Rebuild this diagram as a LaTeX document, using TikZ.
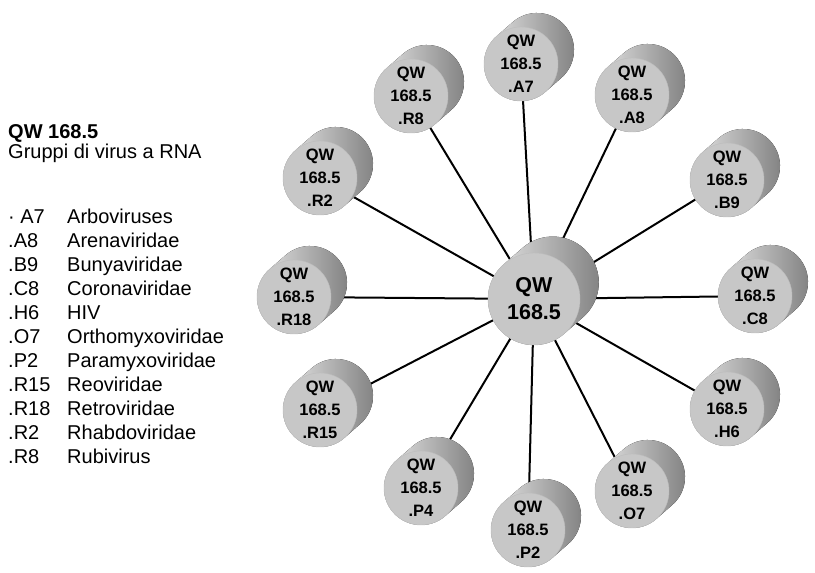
\documentclass[tikz,border=0pt]{standalone}
\usepackage{fontspec}
\setmainfont{Liberation Sans}
\usetikzlibrary{backgrounds}

% cylinder body behind a front disc: centre x, centre y, radius, depth
\newcommand{\cylbody}[4]{%
  \fill[left color=black!8, right color=black!50]
    (#1,#2) ++(131.2:#3) -- ++(41.2:#4)
    arc[start angle=131.2, end angle=-48.8, radius=#3]
    -- ++(221.2:#4)
    arc[start angle=-48.8, end angle=-228.8, radius=#3] -- cycle;}
\newcommand{\vnode}[4]{%
  \cylbody{#2}{#3}{37}{21.3}%
  \node[cylfront] (#1) at (#2,#3) {QW\\168.5\\#4};}

\tikzset{
  cylfront/.style={circle, fill=black!22, draw=black!26, line width=0.4pt,
    minimum size=74pt, inner sep=0pt, align=center, text=black,
    font=\bfseries\fontsize{16.5}{23}\selectfont},
  cylbig/.style={cylfront, minimum size=92pt,
    font=\bfseries\fontsize{21.5}{27}\selectfont},
  link/.style={line width=2pt, draw=black},
  legend/.style={anchor=base west, inner sep=0pt,
    font=\fontsize{20}{24}\selectfont},
}

\begin{document}
\begin{tikzpicture}[x=1pt, y=1pt]
\useasboundingbox (0,0) rectangle (815,573);

% centre
\cylbody{534}{274}{46}{25}
\node[cylbig] (c) at (534,274) {QW\\168.5};

\vnode{A7}{521}{509}{.A7}
\vnode{A8}{632}{478}{.A8}
\vnode{B9}{727}{393}{.B9}
\vnode{C8}{755}{277}{.C8}
\vnode{H6}{727}{164}{.H6}
\vnode{O7}{632}{82}{.O7}
\vnode{P2}{528}{43}{.P2}
\vnode{P4}{421}{85}{.P4}
\vnode{R15}{320}{163}{.R15}
\vnode{R18}{294}{276}{.R18}
\vnode{R2}{320}{395}{.R2}
\vnode{R8}{411}{477}{.R8}

\begin{scope}[on background layer]
  \foreach \n in {A7,A8,B9,C8,H6,O7,P2,P4,R15,R18,R2,R8}
    \draw[link] (c.center) -- (\n.center);
\end{scope}

% legend
\node[legend, font=\bfseries\fontsize{20}{24}\selectfont] (t1) at (8,434) {QW 168.5};
\node[legend] (t2) at (8,414) {Gruppi di virus a RNA};

\node[legend] (k1)  at (8,349) {\textperiodcentered\ A7};
\node[legend] (v1)  at (67,349) {Arboviruses};
\node[legend] (k2)  at (8,325) {.A8};
\node[legend] (v2)  at (67,325) {Arenaviridae};
\node[legend] (k3)  at (8,301) {.B9};
\node[legend] (v3)  at (67,301) {Bunyaviridae};
\node[legend] (k4)  at (8,277) {.C8};
\node[legend] (v4)  at (67,277) {Coronaviridae};
\node[legend] (k5)  at (8,253) {.H6};
\node[legend] (v5)  at (67,253) {HIV};
\node[legend] (k6)  at (8,229) {.O7};
\node[legend] (v6)  at (67,229) {Orthomyxoviridae};
\node[legend] (k7)  at (8,205) {.P2};
\node[legend] (v7)  at (67,205) {Paramyxoviridae};
\node[legend] (k8)  at (8,181) {.R15};
\node[legend] (v8)  at (67,181) {Reoviridae};
\node[legend] (k9)  at (8,157) {.R18};
\node[legend] (v9)  at (67,157) {Retroviridae};
\node[legend] (k10) at (8,133) {.R2};
\node[legend] (v10) at (67,133) {Rhabdoviridae};
\node[legend] (k11) at (8,109) {.R8};
\node[legend] (v11) at (67,109) {Rubivirus};
\end{tikzpicture}
\end{document}
